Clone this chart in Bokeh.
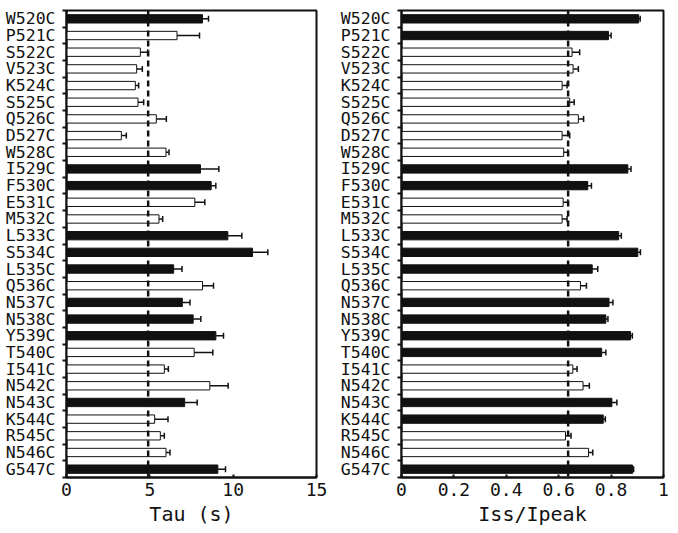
from bokeh.plotting import figure
from bokeh.layouts import row
from bokeh.models import (ColumnDataSource, Range1d, FixedTicker, Span, Whisker, TeeHead)
from bokeh.embed import file_html
from bokeh.resources import INLINE

mutants = ["W520C", "P521C", "S522C", "V523C", "K524C", "S525C", "Q526C", "D527C",
           "W528C", "I529C", "F530C", "E531C", "M532C", "L533C", "S534C", "L535C",
           "Q536C", "N537C", "N538C", "Y539C", "T540C", "I541C", "N542C", "N543C",
           "K544C", "R545C", "N546C", "G547C"]

tau = [8.16, 6.63, 4.43, 4.21, 4.13, 4.29, 5.39, 3.29, 5.97, 8.04, 8.68, 7.70, 5.55, 9.68,
       11.16, 6.43, 8.16, 6.95, 7.60, 8.96, 7.66, 5.87, 8.60, 7.09, 5.29, 5.63, 5.97, 9.08]
tau_err = [0.36, 1.35, 0.44, 0.34, 0.20, 0.34, 0.60, 0.30, 0.18, 1.10, 0.28, 0.60, 0.22, 0.84,
           0.92, 0.50, 0.66, 0.46, 0.46, 0.46, 1.12, 0.24, 1.10, 0.75, 0.80, 0.24, 0.24, 0.46]
tau_sig = [1, 0, 0, 0, 0, 0, 0, 0, 0, 1, 1, 0, 0, 1, 1, 1, 0, 1, 1, 1, 0, 0, 0, 1, 0, 0, 0, 1]
tau_wt = 4.9

ratio = [0.905, 0.790, 0.651, 0.655, 0.613, 0.642, 0.675, 0.613, 0.619, 0.864, 0.711, 0.617,
         0.613, 0.829, 0.902, 0.728, 0.683, 0.792, 0.780, 0.874, 0.764, 0.654, 0.693, 0.803,
         0.770, 0.626, 0.714, 0.882]
ratio_err = [0.006, 0.010, 0.029, 0.020, 0.019, 0.017, 0.020, 0.029, 0.016, 0.012, 0.014, 0.018,
             0.019, 0.010, 0.010, 0.021, 0.023, 0.015, 0.008, 0.007, 0.016, 0.016, 0.024, 0.019,
             0.008, 0.021, 0.016, 0.004]
ratio_sig = [1, 1, 0, 0, 0, 0, 0, 0, 0, 1, 1, 0, 0, 1, 1, 1, 0, 1, 1, 1, 1, 0, 0, 1, 1, 0, 0, 1]
ratio_wt = 0.636

FONT = "DejaVu Sans Mono"


def panel(values, errs, sig, wt, xmax, xticks, xlabel, width, left, right, overrides):
    n = len(mutants)
    idx = list(range(n))
    src = ColumnDataSource(dict(
        y=idx, v=values, hi=[a + b for a, b in zip(values, errs)],
        fill=["#111111" if s else "white" for s in sig]))
    p = figure(width=width, height=528, output_backend="svg", toolbar_location=None,
               x_range=Range1d(0, xmax), y_range=Range1d(n - 0.5, -0.5),
               min_border_left=left, min_border_right=right, min_border_top=10,
               min_border_bottom=45)
    p.hbar(y="y", left=0, right="v", height=0.5, fill_color="fill", line_color="#111111",
           line_width=1, source=src)
    w = Whisker(base="y", lower="v", upper="hi", dimension="width", source=src,
                line_color="#111111", line_width=1.5, lower_head=None,
                upper_head=TeeHead(size=6, line_color="#111111", line_width=1.5))
    p.add_layout(w)
    p.add_layout(Span(location=wt, dimension="height", line_color="#111111",
                      line_width=2.5, line_dash="6 4"))
    p.xgrid.visible = False
    p.ygrid.visible = False
    p.outline_line_color = "#111111"
    p.outline_line_width = 2
    p.background_fill_color = "white"
    p.border_fill_color = "white"

    ya = p.yaxis[0]
    ya.ticker = FixedTicker(ticks=idx, minor_ticks=[i - 0.5 for i in range(n + 1)])
    ya.major_label_overrides = {i: m for i, m in enumerate(mutants)}
    ya.major_tick_line_color = None
    ya.minor_tick_in = 0
    ya.minor_tick_out = 4
    ya.minor_tick_line_width = 2
    ya.minor_tick_line_color = "#111111"
    ya.axis_line_width = 2
    ya.axis_line_color = "#111111"
    ya.major_label_text_font = FONT
    ya.major_label_text_font_size = "16.5px"
    ya.major_label_text_color = "#111111"
    ya.major_label_standoff = 5

    xa = p.xaxis[0]
    xa.ticker = FixedTicker(ticks=xticks, minor_ticks=[])
    xa.major_label_overrides = overrides
    xa.major_tick_in = 3
    xa.major_tick_out = 0
    xa.major_tick_line_width = 2
    xa.major_tick_line_color = "#111111"
    xa.axis_line_width = 2
    xa.axis_line_color = "#111111"
    xa.major_label_text_font = FONT
    xa.major_label_text_font_size = "18px"
    xa.major_label_text_color = "#111111"
    xa.major_label_standoff = 5
    xa.axis_label = xlabel
    xa.axis_label_text_font = FONT
    xa.axis_label_text_font_size = "20px"
    xa.axis_label_text_font_style = "normal"
    xa.axis_label_text_color = "#111111"
    xa.axis_label_standoff = 3
    return p


p1 = panel(tau, tau_err, tau_sig, tau_wt, 15, [0, 5, 10, 15], "Tau (s)", 335, 66, 19,
           {0: "0", 5: "5", 10: "10", 15: "15"})
p2 = panel(ratio, ratio_err, ratio_sig, ratio_wt, 1, [0, 0.2, 0.4, 0.6, 0.8, 1.0], "Iss/Ipeak",
           335, 66, 7, {0: "0", 1: "1"})

layout = row(p1, p2)
open("out.html", "w").write(file_html(layout, INLINE))
